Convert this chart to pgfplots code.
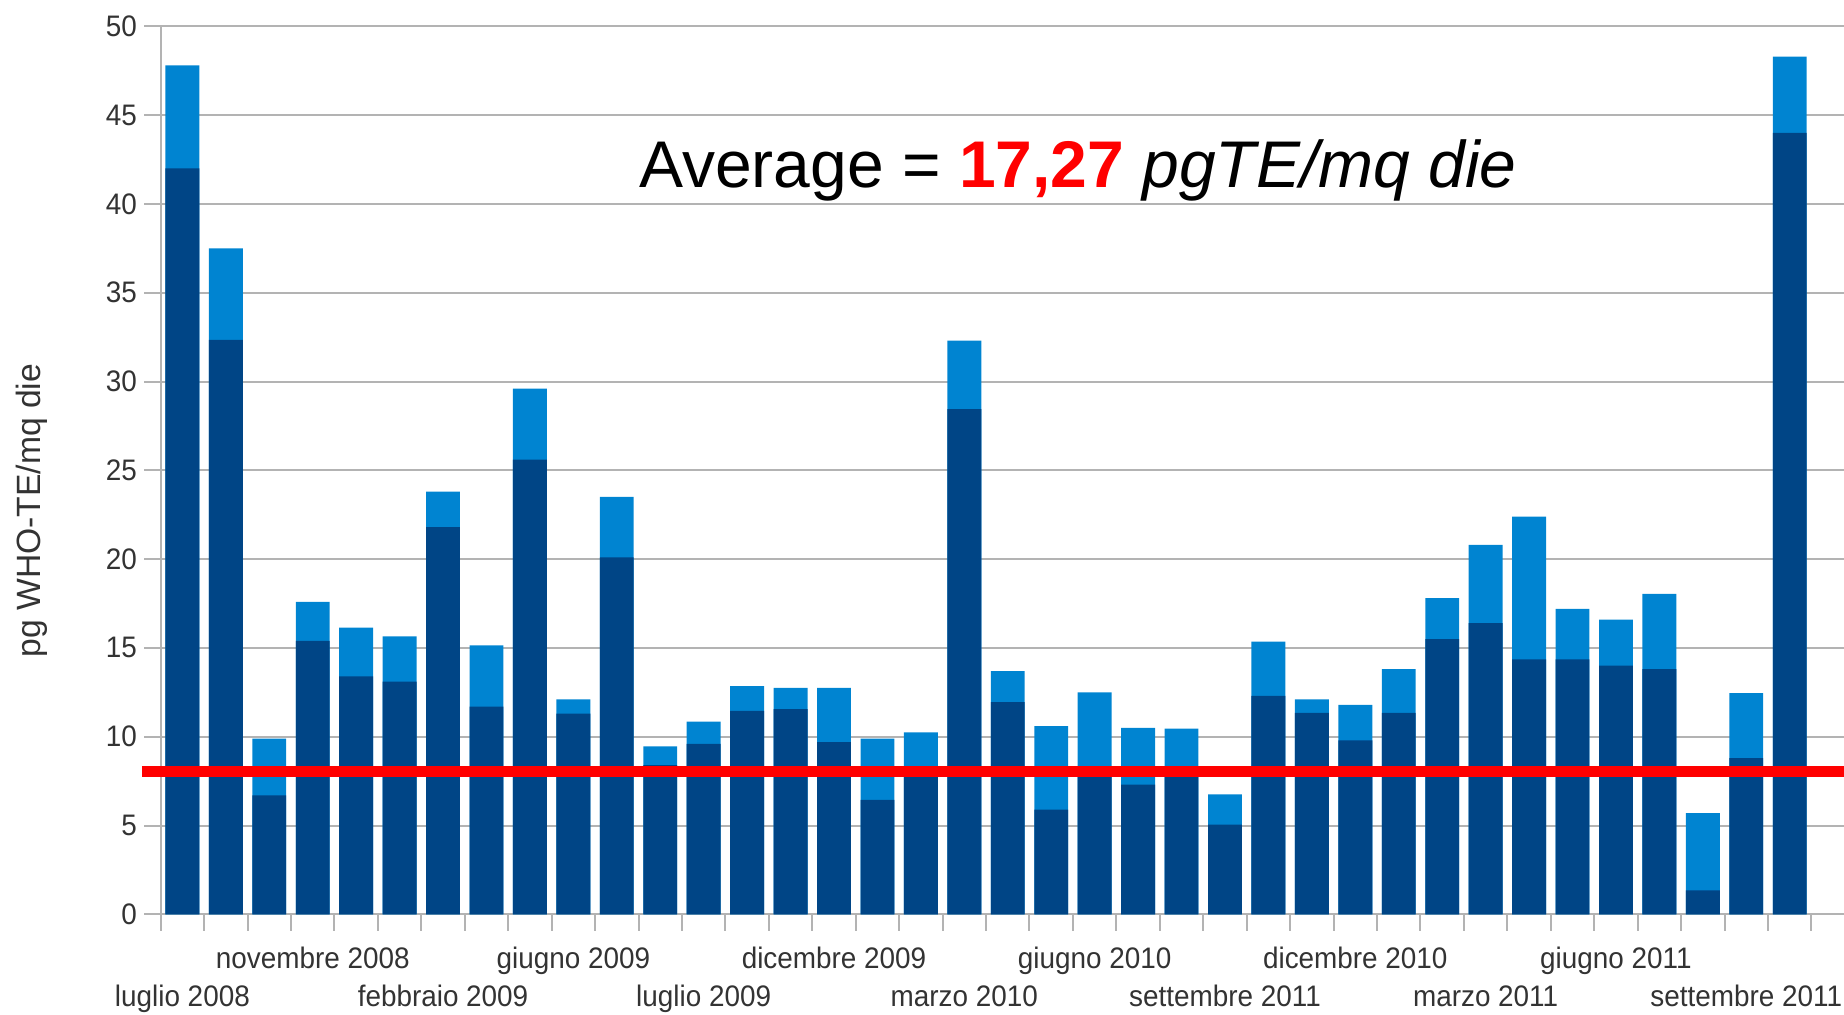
\documentclass[border=0pt]{standalone}
\usepackage{fontspec}
\setmainfont{Liberation Sans}
\newfontfamily\narrowsans{Liberation Sans}[FakeStretch=0.94]
\usepackage{pgfplots}
\usepackage{pgfplotstable}
\pgfplotsset{compat=1.18}
\definecolor{darkbar}{HTML}{004586}
\definecolor{lightbar}{HTML}{0084D1}
\definecolor{gridc}{HTML}{B3B3B3}
\definecolor{labc}{HTML}{333333}
\definecolor{avgred}{HTML}{FF0000}

\pgfplotstableread{
x dark total
0 42.0 47.8
1 32.35 37.5
2 6.7 9.9
3 15.4 17.6
4 13.4 16.15
5 13.1 15.65
6 21.8 23.8
7 11.7 15.15
8 25.6 29.6
9 11.3 12.1
10 20.1 23.5
11 8.4 9.45
12 9.6 10.85
13 11.45 12.85
14 11.55 12.75
15 9.7 12.75
16 6.45 9.9
17 8.1 10.25
18 28.45 32.3
19 11.95 13.7
20 5.9 10.6
21 8.1 12.5
22 7.3 10.5
23 8.1 10.45
24 5.05 6.75
25 12.3 15.35
26 11.35 12.1
27 9.8 11.8
28 11.35 13.8
29 15.5 17.8
30 16.4 20.8
31 14.35 22.4
32 14.35 17.2
33 14.0 16.6
34 13.8 18.05
35 1.35 5.7
36 8.8 12.45
37 44.0 48.3
}\datatable

\begin{document}
\begin{tikzpicture}
\begin{axis}[
  at={(0,0)}, anchor=south west,
  scale only axis, width=505pt, height=266.4pt,
  xmin=-0.5, xmax=38.25, ymin=0, ymax=50,
  clip=false,
  axis lines=left,
  axis line style={-, draw=gridc, line width=0.6pt},
  ytick={0,5,...,50},
  ymajorgrids,
  grid style={draw=gridc, line width=0.6pt},
  tick align=outside,
  major tick length=4.9pt,
  tick style={draw=gridc, line width=0.6pt},
  xtick={-0.5,0.5,...,37.5},
  xticklabels={},
  extra x ticks={0,3,6,9,12,15,18,21,24,27,30,33,36},
  extra x tick labels={
    \raisebox{-11.2pt}{luglio 2008}, novembre 2008,
    \raisebox{-11.2pt}{febbraio 2009}, giugno 2009,
    \raisebox{-11.2pt}{luglio 2009}, dicembre 2009,
    \raisebox{-11.2pt}{marzo 2010}, giugno 2010,
    \raisebox{-11.2pt}{settembre 2011}, dicembre 2010,
    \raisebox{-11.2pt}{marzo 2011}, giugno 2011,
    \raisebox{-11.2pt}{settembre 2011}},
  extra x tick style={major tick length=0pt, tick style={draw=none}},
  xticklabel style={anchor=base, inner sep=0pt, yshift=-16.4pt,
    font=\narrowsans\fontsize{8.9}{10}\selectfont, text=labc},
  yticklabel style={inner sep=0pt, xshift=-2pt,
    font=\narrowsans\fontsize{8.9}{10}\selectfont, text=labc},
  /pgf/number format/assume math mode=true,
  ylabel={pg WHO-TE/mq die},
  every axis y label/.style={at={([xshift=-35.9pt,yshift=121.1pt]rel axis cs:0,0)},
    rotate=90, anchor=base, font=\fontsize{10.1}{12}\selectfont, text=labc},
]
\addplot[ybar, bar width=0.78, bar shift=0pt, fill=lightbar, draw=none]
  table[x=x, y=total] {\datatable};
\addplot[ybar, bar width=0.78, bar shift=0pt, fill=darkbar, draw=none]
  table[x=x, y=dark] {\datatable};
\addplot[avgred, line width=3.2pt, sharp plot, mark=none]
  coordinates {(-0.93,8.05) (38.25,8.05)};
\node[anchor=base, font=\fontsize{19.8}{24}\selectfont, inner sep=0pt]
  at ([xshift=275.2pt, yshift=217.9pt]rel axis cs:0,0)
  {Average = \textcolor{avgred}{\textbf{17,27}} \textit{pgTE/mq die}};
\end{axis}
\pgfresetboundingbox
\path[use as bounding box] (-48.2pt,-30.2pt) rectangle (505pt,274.3pt);
\end{tikzpicture}
\end{document}
